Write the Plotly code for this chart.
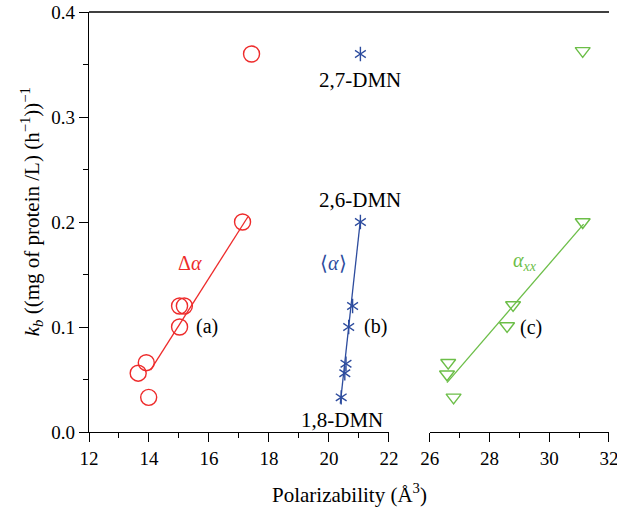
import plotly.graph_objects as go

# ---- data ----
kb_red = [0.36, 0.20, 0.12, 0.12, 0.10, 0.066, 0.056, 0.033]
pol_delta = [17.42, 17.12, 15.02, 15.18, 15.02, 13.91, 13.64, 13.99]

kb_blue = [0.36, 0.20, 0.12, 0.10, 0.065, 0.056, 0.033]
pol_mean = [21.05, 21.05, 20.79, 20.66, 20.57, 20.53, 20.41]

kb_green = [0.363, 0.20, 0.121, 0.101, 0.066, 0.055, 0.033]
pol_xx = [31.12, 31.12, 28.79, 28.59, 26.62, 26.58, 26.80]

fit_delta_x = [14.05, 17.30]
fit_delta_y = [0.059, 0.205]
fit_mean_x = [20.38, 21.05]
fit_mean_y = [0.027, 0.202]
fit_xx_x = [26.58, 31.15]
fit_xx_y = [0.047, 0.198]

left_range = [12, 22]
right_range = [26, 32]
y_range = [0, 0.4]

RED = "#EE2B2B"
BLUE = "#2D4C9E"
GREEN = "#6CBE48"
FONT = "Liberation Serif, Times New Roman, Times, serif"

fig = go.Figure()

# fit lines
fig.add_trace(go.Scatter(x=fit_delta_x, y=fit_delta_y, mode="lines",
                         line=dict(color=RED, width=1.3), xaxis="x", yaxis="y"))
fig.add_trace(go.Scatter(x=fit_mean_x, y=fit_mean_y, mode="lines",
                         line=dict(color=BLUE, width=1.3), xaxis="x", yaxis="y"))
fig.add_trace(go.Scatter(x=fit_xx_x, y=fit_xx_y, mode="lines",
                         line=dict(color=GREEN, width=1.3), xaxis="x2", yaxis="y"))

# markers
fig.add_trace(go.Scatter(x=pol_delta, y=kb_red, mode="markers",
                         marker=dict(symbol="circle-open", size=16, color=RED,
                                     line=dict(width=1.4, color=RED)),
                         xaxis="x", yaxis="y"))
for sym in ["y-up-open", "y-down-open"]:
    fig.add_trace(go.Scatter(x=pol_mean, y=kb_blue, mode="markers",
                             marker=dict(symbol=sym, size=9, color=BLUE,
                                         line=dict(width=1.4, color=BLUE)),
                             xaxis="x", yaxis="y"))
fig.add_trace(go.Scatter(x=pol_xx, y=kb_green, mode="markers",
                         marker=dict(symbol="triangle-down-open", size=13, color=GREEN,
                                     line=dict(width=1.4, color=GREEN)),
                         xaxis="x2", yaxis="y"))

axis_common = dict(
    showgrid=False, zeroline=False, showline=True, linecolor="black", linewidth=1.3,
    ticks="outside", ticklen=9, tickwidth=1.3, tickcolor="black", automargin=False,
    tickfont=dict(family=FONT, size=19, color="black"),
    ticklabeloverflow="allow",
)

pw = 520.2
ph = 420.0
fig.update_layout(
    width=617, height=511,
    margin=dict(l=88.5, r=8.3, t=12.3, b=78.7, autoexpand=False),
    paper_bgcolor="white", plot_bgcolor="white",
    showlegend=False,
    font=dict(family=FONT, size=18, color="black"),
    xaxis=dict(domain=[0, 300 / pw], range=left_range, dtick=2, tick0=12,
               anchor="y",
               minor=dict(dtick=1, ticks="outside", ticklen=5, tickwidth=1.3,
                          tickcolor="black"),
               **axis_common),
    xaxis2=dict(domain=[340.8 / pw, 1], range=right_range, dtick=2, tick0=26,
                anchor="y",
                minor=dict(dtick=1, ticks="outside", ticklen=5, tickwidth=1.3,
                           tickcolor="black"),
                **axis_common),
    yaxis=dict(range=y_range, dtick=0.1, tick0=0, tickformat=".1f", anchor="x",
               minor=dict(dtick=0.05, ticks="outside", ticklen=5, tickwidth=1.3,
                          tickcolor="black"),
               **axis_common),
    yaxis2=dict(range=y_range, dtick=0.1, tick0=0, overlaying="y", side="right",
                anchor="x2", showticklabels=False, automargin=False,
                showgrid=False, zeroline=False, showline=True, linecolor="black",
                linewidth=1.3, ticks="inside", ticklen=9, tickwidth=1.3, tickcolor="black",
                minor=dict(dtick=0.05, ticks="inside", ticklen=5, tickwidth=1.3,
                           tickcolor="black")),
)

# continuous top frame line
fig.add_shape(type="line", xref="paper", yref="paper", x0=0, x1=1, y0=1, y1=1,
              line=dict(color="black", width=1.3))

def ann(text, x, y, color="black", xref="x", size=20):
    fig.add_annotation(text=text, x=x, y=y, xref=xref, yref="y", showarrow=False,
                       font=dict(family=FONT, size=size, color=color),
                       xanchor="center", yanchor="middle")

ann("2,7-DMN", 21.02, 0.3355, size=21)
ann("2,6-DMN", 21.02, 0.221, size=21)
ann("1,8-DMN", 20.44, 0.0117, size=21)
ann("Δ<i>α</i>", 15.38, 0.161, color=RED)
ann("⟨<i>α</i>⟩", 20.15, 0.161, color=BLUE)
ann("<i>α</i><sub><i>xx</i></sub>", 29.2, 0.162, color=GREEN, xref="x2")
ann("(a)", 15.94, 0.1006)
ann("(b)", 21.55, 0.1003)
ann("(c)", 29.39, 0.0993, xref="x2")

# y-axis title (rotated)
fig.add_annotation(text="<i>k</i><sub><i>b</i></sub> ((mg of protein /L) (h<sup>−1</sup>))<sup>−1</sup>",
                   x=(31 - 88.5) / pw, y=(432.3 - 212) / ph, textangle=-90,
                   xref="paper", yref="paper", showarrow=False,
                   font=dict(family=FONT, size=21, color="black"),
                   xanchor="center", yanchor="middle")

# x-axis title spanning both panels
fig.add_annotation(text="Polarizability (Å<sup>3</sup>)", x=0.5, y=(432.3 - 494) / ph,
                   xref="paper", yref="paper", showarrow=False,
                   font=dict(family=FONT, size=21, color="black"),
                   xanchor="center", yanchor="middle")

fig.write_html("out.html",
               config={"displayModeBar": False},
               post_script="document.body.style.margin='0';document.body.style.overflow='hidden';")
